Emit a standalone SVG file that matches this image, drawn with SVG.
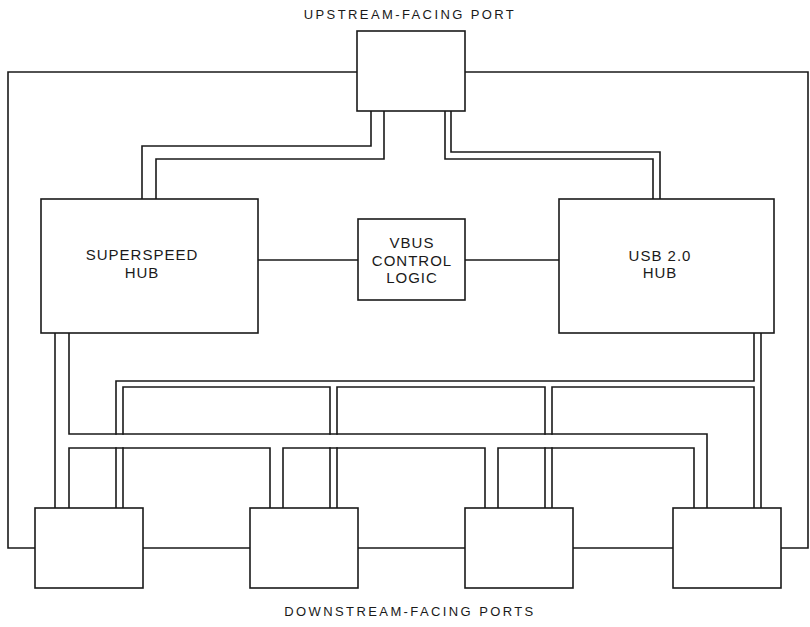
<svg xmlns="http://www.w3.org/2000/svg" width="810" height="627" viewBox="0 0 810 627">
<style>
.box{fill:#fff;stroke:#1a1a1a;stroke-width:1.6}
.ln{fill:none;stroke:#1a1a1a;stroke-width:1.6;stroke-linecap:square;stroke-linejoin:miter}
.t{font-family:"Liberation Sans",Arial,sans-serif;font-size:15px;fill:#1a1a1a;text-anchor:middle;letter-spacing:1px}
.cap{font-family:"Liberation Sans",Arial,sans-serif;font-size:13px;fill:#1a1a1a;text-anchor:middle;letter-spacing:2.4px}
</style>
<rect width="810" height="627" fill="#fff"/>
<g id="connectors">
<path class="ln" d="M357,72 H8 V548 H35"/>
<path class="ln" d="M465,72 H808 V548 H781"/>
<path class="ln" d="M143,548 H250 M358,548 H465 M573,548 H673"/>
<path class="ln" d="M258,260 H358 M465,260 H559"/>
<path class="ln" d="M371,111 V146 H142 V199"/>
<path class="ln" d="M384,111 V159 H156 V199"/>
<path class="ln" d="M445,111 V159 H653 V199"/>
<path class="ln" d="M451,111 V152 H660 V199"/>
<path class="ln" d="M55,333 V508"/>
<path class="ln" d="M69,333 V434 H707 V508"/>
<path class="ln" d="M69,508 V448 H270 V508"/>
<path class="ln" d="M283,508 V448 H485 V508"/>
<path class="ln" d="M498,508 V448 H694 V508"/>
<path class="ln" d="M761,333 V508"/>
<path class="ln" d="M754,333 V381 H116 V434 M116,448 V508"/>
<path class="ln" d="M123,508 V448 M123,434 V387 H330 V434 M330,448 V508"/>
<path class="ln" d="M337,508 V448 M337,434 V387 H545 V434 M545,448 V508"/>
<path class="ln" d="M552,508 V448 M552,434 V387 H754 V508"/>
</g>
<g id="upstream-port">
<rect class="box" x="357" y="31" width="108" height="80"/>
<text class="cap" x="410" y="19">UPSTREAM-FACING PORT</text>
</g>
<g id="superspeed-hub">
<rect class="box" x="41" y="199" width="217" height="134"/>
<text class="t" x="142" y="260">SUPERSPEED</text>
<text class="t" x="142" y="278">HUB</text>
</g>
<g id="vbus-control">
<rect class="box" x="358" y="219" width="107" height="81"/>
<text class="t" x="412" y="248">VBUS</text>
<text class="t" x="412" y="266">CONTROL</text>
<text class="t" x="412" y="283">LOGIC</text>
</g>
<g id="usb2-hub">
<rect class="box" x="559" y="199" width="215" height="134"/>
<text class="t" x="660" y="261">USB 2.0</text>
<text class="t" x="660" y="278">HUB</text>
</g>
<g id="dfp1"><rect class="box" x="35" y="508" width="108" height="80"/></g>
<g id="dfp2"><rect class="box" x="250" y="508" width="108" height="80"/></g>
<g id="dfp3"><rect class="box" x="465" y="508" width="108" height="80"/></g>
<g id="dfp4"><rect class="box" x="673" y="508" width="108" height="80"/></g>
<g id="downstream-label">
<text class="cap" x="410" y="616">DOWNSTREAM-FACING PORTS</text>
</g>
</svg>
